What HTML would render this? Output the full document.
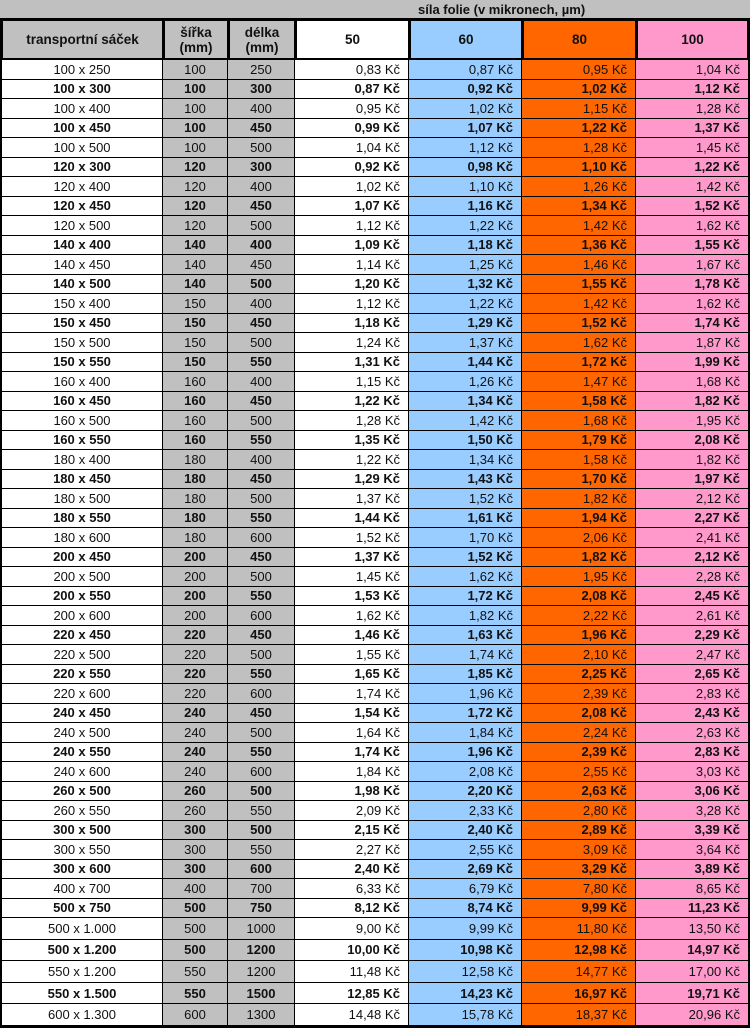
<!DOCTYPE html>
<html><head><meta charset="utf-8">
<style>
body{margin:0;width:750px;height:1028px;background:#000;position:relative;overflow:hidden;font-family:"Liberation Sans",Arial,sans-serif;}
.c{position:absolute;box-sizing:border-box;font-size:13px;color:#111;display:flex;align-items:center;white-space:nowrap;overflow:hidden;}
.h{font-weight:bold;font-size:13.5px;justify-content:center;text-align:center;line-height:15px;}
</style></head>
<body>
<div class="c" style="left:0;top:0;width:750px;height:18px;background:#c0c0c0;justify-content:flex-start;padding-left:418px;font-weight:bold;font-size:13px;">síla folie (v mikronech, µm)</div>
<div id="t"></div>
<script>
const labels=["100 x 250","100 x 300","100 x 400","100 x 450","100 x 500","120 x 300","120 x 400","120 x 450","120 x 500","140 x 400","140 x 450","140 x 500","150 x 400","150 x 450","150 x 500","150 x 550","160 x 400","160 x 450","160 x 500","160 x 550","180 x 400","180 x 450","180 x 500","180 x 550","180 x 600","200 x 450","200 x 500","200 x 550","200 x 600","220 x 450","220 x 500","220 x 550","220 x 600","240 x 450","240 x 500","240 x 550","240 x 600","260 x 500","260 x 550","300 x 500","300 x 550","300 x 600","400 x 700","500 x 750","500 x 1.000","500 x 1.200","550 x 1.200","550 x 1.500","600 x 1.300"];
const widths=[100,100,100,100,100,120,120,120,120,140,140,140,150,150,150,150,160,160,160,160,180,180,180,180,180,200,200,200,200,220,220,220,220,240,240,240,240,260,260,300,300,300,400,500,500,500,550,550,600];
const lengths=[250,300,400,450,500,300,400,450,500,400,450,500,400,450,500,550,400,450,500,550,400,450,500,550,600,450,500,550,600,450,500,550,600,450,500,550,600,500,550,500,550,600,700,750,1000,1200,1200,1500,1300];
const p50=["0,83","0,87","0,95","0,99","1,04","0,92","1,02","1,07","1,12","1,09","1,14","1,20","1,12","1,18","1,24","1,31","1,15","1,22","1,28","1,35","1,22","1,29","1,37","1,44","1,52","1,37","1,45","1,53","1,62","1,46","1,55","1,65","1,74","1,54","1,64","1,74","1,84","1,98","2,09","2,15","2,27","2,40","6,33","8,12","9,00","10,00","11,48","12,85","14,48"];
const p60=["0,87","0,92","1,02","1,07","1,12","0,98","1,10","1,16","1,22","1,18","1,25","1,32","1,22","1,29","1,37","1,44","1,26","1,34","1,42","1,50","1,34","1,43","1,52","1,61","1,70","1,52","1,62","1,72","1,82","1,63","1,74","1,85","1,96","1,72","1,84","1,96","2,08","2,20","2,33","2,40","2,55","2,69","6,79","8,74","9,99","10,98","12,58","14,23","15,78"];
const p80=["0,95","1,02","1,15","1,22","1,28","1,10","1,26","1,34","1,42","1,36","1,46","1,55","1,42","1,52","1,62","1,72","1,47","1,58","1,68","1,79","1,58","1,70","1,82","1,94","2,06","1,82","1,95","2,08","2,22","1,96","2,10","2,25","2,39","2,08","2,24","2,39","2,55","2,63","2,80","2,89","3,09","3,29","7,80","9,99","11,80","12,98","14,77","16,97","18,37"];
const p100=["1,04","1,12","1,28","1,37","1,45","1,22","1,42","1,52","1,62","1,55","1,67","1,78","1,62","1,74","1,87","1,99","1,68","1,82","1,95","2,08","1,82","1,97","2,12","2,27","2,41","2,12","2,28","2,45","2,61","2,29","2,47","2,65","2,83","2,43","2,63","2,83","3,03","3,06","3,28","3,39","3,64","3,89","8,65","11,23","13,50","14,97","17,00","19,71","20,96"];
const headers=["transportní sáček","šířka<br>(mm)","délka<br>(mm)","50","60","80","100"];
const colX=[0,162,227,294,408,521,635,750];
const colBg=["#fff","#c0c0c0","#c0c0c0","#fff","#99ccff","#ff6600","#ff99cc"];
const hdrBg=["#c0c0c0","#c0c0c0","#c0c0c0","#fff","#99ccff","#ff6600","#ff99cc"];
const t=document.getElementById('t');
function cell(x,y,w,h,bg){const d=document.createElement('div');d.className='c';d.style.left=x+'px';d.style.top=y+'px';d.style.width=w+'px';d.style.height=h+'px';d.style.background=bg;t.appendChild(d);return d;}
for(let i=0;i<7;i++){
  const d=cell(colX[i]+3,21,colX[i+1]-colX[i]-3-(i==6?3:0),37,hdrBg[i]);
  d.classList.add('h');d.innerHTML=headers[i];
  
  
}
const cols=[labels,widths,lengths,p50,p60,p80,p100];
let y=60;
for(let r=0;r<labels.length;r++){
  const h=r<44?19.5:21.6;
  for(let i=0;i<7;i++){
    const x=colX[i]+(i==0?2:1);
    const w=colX[i+1]-colX[i]-1-(i==0?1:0)-(i==6?2:0);
    const d=cell(x,y,w,h-1,colBg[i]);
    let v=cols[i][r];
    if(i>=3){v=v+' Kč';d.style.justifyContent='flex-end';d.style.paddingRight='8px';}
    else d.style.justifyContent='center';
    if(r%2==1)d.style.fontWeight='bold';
    d.textContent=v;
    
    
  }
  y+=h;
}
</script>
</body></html>
